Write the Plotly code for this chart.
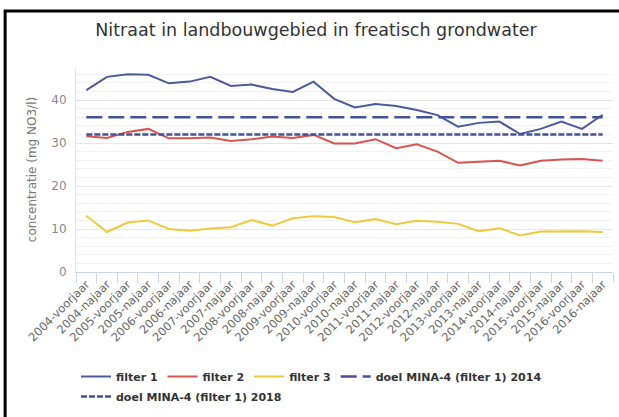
import plotly.graph_objects as go

# Meetcampagnes: voorjaar en najaar van 2004 t/m 2016
jaren = list(range(2004, 2017))
seizoenen = ["voorjaar", "najaar"]
campagnes = [f"{j}-{s}" for j in jaren for s in seizoenen]

# Gemiddelde nitraatconcentratie (mg NO3/l) per filter
filter_1 = [42.3, 45.4, 46.0, 45.9, 43.9, 44.3, 45.4, 43.3, 43.6, 42.6, 41.9, 44.3, 40.3,
            38.3, 39.1, 38.6, 37.7, 36.5, 33.8, 34.7, 35.0, 32.1, 33.3, 35.0, 33.3, 36.6]
filter_2 = [31.6, 31.2, 32.6, 33.3, 31.1, 31.1, 31.3, 30.5, 30.9, 31.5, 31.2, 31.9, 29.9,
            29.9, 30.9, 28.8, 29.7, 28.0, 25.4, 25.7, 25.9, 24.8, 25.9, 26.2, 26.3, 25.9]
filter_3 = [13.1, 9.3, 11.5, 12.0, 10.0, 9.6, 10.1, 10.4, 12.1, 10.8, 12.5, 13.0, 12.8,
            11.6, 12.3, 11.1, 11.9, 11.7, 11.2, 9.5, 10.2, 8.5, 9.4, 9.5, 9.5, 9.3]

# Doelstellingen MINA-4 voor filter 1
doel_2014 = 36
doel_2018 = 32

y_ticks = [0, 10, 20, 30, 40]

W, H = 619, 417
FONT = "Lucida Grande, DejaVu Sans, sans-serif"
BLAUW = "#4a5a9c"
DOEL_BLAUW = "#42529a"
ROOD = "#d9534f"
GEEL = "#efc93c"

fig = go.Figure()
fig.add_trace(go.Scatter(x=campagnes, y=filter_1, name="filter 1", mode="lines",
                         line=dict(color=BLAUW, width=2)))
fig.add_trace(go.Scatter(x=campagnes, y=filter_2, name="filter 2", mode="lines",
                         line=dict(color=ROOD, width=2)))
fig.add_trace(go.Scatter(x=campagnes, y=filter_3, name="filter 3", mode="lines",
                         line=dict(color=GEEL, width=2)))
fig.add_trace(go.Scatter(x=campagnes, y=[doel_2014] * len(campagnes),
                         name="doel MINA-4 (filter 1) 2014", mode="lines",
                         line=dict(color=DOEL_BLAUW, width=2.5, dash="16px,6px")))
fig.add_trace(go.Scatter(x=campagnes, y=[doel_2018] * len(campagnes),
                         name="doel MINA-4 (filter 1) 2018", mode="lines",
                         legend="legend2",
                         line=dict(color=DOEL_BLAUW, width=2.5, dash="6px,2px")))

legend_font = dict(size=11, color="#333333", family=FONT, weight="bold")

fig.update_layout(
    width=W, height=H,
    margin=dict(l=76, r=6, t=67, b=145, autoexpand=False),
    paper_bgcolor="white", plot_bgcolor="white",
    font=dict(family=FONT, color="#333333"),
    title=dict(text="Nitraat in landbouwgebied in freatisch grondwater",
               x=316 / W, xanchor="center", xref="container",
               y=1 - 30 / H, yanchor="middle", yref="container",
               font=dict(size=17.5, color="#333333", family=FONT)),
    showlegend=True,
    legend=dict(orientation="h", xref="container", x=76 / W, xanchor="left",
                yref="container", y=1 - 362 / H, yanchor="top",
                font=legend_font, itemwidth=30, bgcolor="rgba(0,0,0,0)"),
    legend2=dict(orientation="h", xref="container", x=76 / W, xanchor="left",
                 yref="container", y=1 - 382 / H, yanchor="top",
                 font=legend_font, itemwidth=30, bgcolor="rgba(0,0,0,0)"),
    hovermode=False,
    shapes=[dict(type="rect", xref="paper", yref="paper",
                 x0=-0.132, x1=1.05, y0=-0.75, y1=1.273,
                 line=dict(color="black", width=3), fillcolor="rgba(0,0,0,0)",
                 layer="above")],
)

fig.update_xaxes(
    type="category", range=[-0.5, len(campagnes) - 0.5], automargin=False,
    showline=True, linecolor="#ccd6eb", linewidth=1,
    ticks="outside", tickson="boundaries", ticklen=10, tickcolor="#ccd6eb",
    tickangle=-45, tickfont=dict(size=11.5, color="#666666", family=FONT),
    showgrid=False, zeroline=False,
)
fig.update_yaxes(
    range=[0, 47.7], tickvals=y_ticks, automargin=False,
    showline=True, linecolor="#e3e6f0", linewidth=1,
    gridcolor="#e6e6e6", gridwidth=1,
    minor=dict(dtick=2, showgrid=True, gridcolor="#f3f3f3", gridwidth=1),
    zeroline=False,
    tickfont=dict(size=12, color="#8a8a8a", family=FONT),
    ticklabelstandoff=6,
    title=dict(text="concentratie (mg NO3/l)", standoff=12,
               font=dict(size=12, color="#777777", family=FONT)),
)

fig.write_html("out.html")
